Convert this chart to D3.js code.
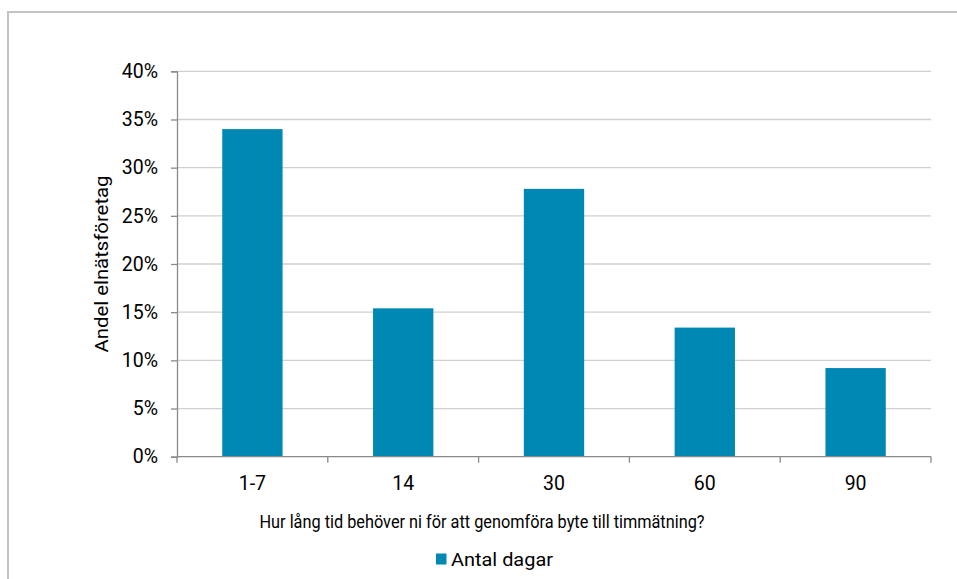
<!DOCTYPE html>
<html><head><meta charset="utf-8">
<script src="https://cdn.jsdelivr.net/npm/d3@7"></script>
<style>html,body{margin:0;padding:0;background:#fff;}svg{display:block;}text{font-family:Roboto,"Liberation Sans",Arial,sans-serif;fill:#000;}</style>
</head><body>
<script>
const categories = ["1-7","14","30","60","90"];
const values = [0.340, 0.154, 0.278, 0.134, 0.092];
const yTicks = [0,0.05,0.10,0.15,0.20,0.25,0.30,0.35,0.40];
const seriesName = "Antal dagar";
const xTitle = "Hur lång tid behöver ni för att genomföra byte till timmätning?";
const yTitle = "Andel elnätsföretag";

const W=957,H=579;
const FONT="Roboto,'Liberation Sans',Arial,sans-serif";
const svg=d3.select("body").append("svg").attr("width",W).attr("height",H);
svg.append("rect").attr("x",8).attr("y",12).attr("width",1000).attr("height",700)
  .attr("fill","none").attr("stroke","#c3c3c3").attr("stroke-width",2);

const L=177,R=931,T=71.3,B=456.7;
const x=d3.scaleBand().domain(categories).range([L,R]).paddingInner(0.6).paddingOuter(0.3);
const xb=d3.scaleBand().domain(categories).range([L,R]);
const y=d3.scaleLinear().domain([0,0.4]).range([B,T]);

// gridlines
svg.append("g").selectAll("line").data(yTicks.filter(d=>d>0)).join("line")
  .attr("x1",L).attr("x2",R).attr("y1",d=>y(d)).attr("y2",d=>y(d))
  .attr("stroke","#d0d0d0").attr("stroke-width",1.3);

// y axis
const ya=svg.append("g").attr("transform",`translate(${L},0)`)
  .call(d3.axisLeft(y).tickValues(yTicks).tickFormat(d3.format(".0%")).tickSize(6).tickPadding(13));
ya.select(".domain").attr("stroke","#8a8a8a").attr("stroke-width",1.3);
ya.selectAll(".tick line").attr("stroke","#8a8a8a").attr("stroke-width",1.3);
ya.selectAll("text").attr("font-family",FONT).attr("font-size",19.5).attr("fill","#000");

// bars
svg.append("g").selectAll("rect").data(values).join("rect")
  .attr("x",(d,i)=>x(categories[i])).attr("width",x.bandwidth())
  .attr("y",d=>y(d)).attr("height",d=>B-y(d)).attr("fill","#0088b5");

// x axis
svg.append("line").attr("x1",L).attr("x2",R).attr("y1",B).attr("y2",B).attr("stroke","#8a8a8a").attr("stroke-width",1.3);
const bounds=categories.map(c=>xb(c)).concat([R]);
svg.append("g").selectAll("line").data(bounds).join("line")
  .attr("x1",d=>d).attr("x2",d=>d).attr("y1",B).attr("y2",B+6).attr("stroke","#8a8a8a").attr("stroke-width",1.3);
svg.append("g").selectAll("text").data(categories).join("text")
  .attr("x",d=>xb(d)+xb.bandwidth()/2).attr("y",490).attr("text-anchor","middle")
  .attr("font-size",19.5).text(d=>d);

// titles
const xt=svg.append("text").attr("x",482).attr("y",528).attr("text-anchor","middle").attr("font-size",18.5).text(xTitle);
if (xt.node().getComputedTextLength()>452) xt.attr("textLength",445).attr("lengthAdjust","spacingAndGlyphs");
svg.append("text").attr("transform",`translate(108,264) rotate(-90)`).attr("text-anchor","middle").attr("font-size",18)
  .attr("textLength",177).attr("lengthAdjust","spacingAndGlyphs").text(yTitle);

// legend
svg.append("rect").attr("x",436).attr("y",553.5).attr("width",10.5).attr("height",11).attr("fill","#0088b5");
svg.append("text").attr("x",451).attr("y",566).attr("font-size",18.5)
  .attr("textLength",102).attr("lengthAdjust","spacingAndGlyphs").text(seriesName);
</script>
</body></html>
